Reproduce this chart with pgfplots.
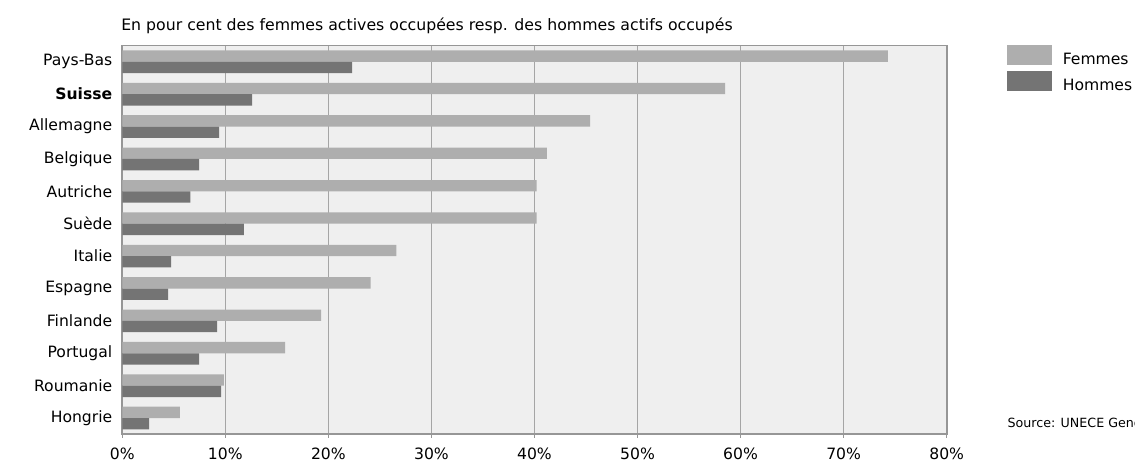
\documentclass[border=0pt]{standalone}
\usepackage{fontspec}
\setmainfont{DejaVu Sans}
\usepackage{pgfplots}
\pgfplotsset{compat=1.18}
\definecolor{fem}{RGB}{174,174,174}
\definecolor{hom}{RGB}{116,116,116}
\definecolor{bg}{RGB}{239,239,239}
\definecolor{grd}{RGB}{165,165,165}
\definecolor{brd}{RGB}{150,150,150}
\begin{document}
\begin{tikzpicture}
\begin{axis}[
  at={(91.7pt,22.3pt)}, anchor=south west,
  scale only axis, width=618.3pt, height=291.5pt,
  xbar, xmin=0, xmax=80, ymin=-0.5, ymax=11.5,
  axis background/.style={fill=bg},
  axis line style={brd, line width=1.3pt},
  xmajorgrids, grid style={grd, line width=1pt},
  xtick={0,10,...,80},
  xtick pos=lower,
  xticklabel={\pgfmathprintnumber{\tick}\%},
  /pgf/number format/assume math mode=true,
  ytick={0,...,11},
  yticklabels={Hongrie,Roumanie,Portugal,Finlande,Espagne,Italie,Suède,Autriche,Belgique,Allemagne,\textbf{Suisse},Pays-Bas},
  tick align=outside, major tick length=2.5pt,
  xtick style={brd, line width=1pt},
  ytick style={draw=none},
  tick label style={font=\fontsize{11.7}{13}\selectfont, text=black},
  xticklabel style={inner sep=0pt, anchor=north, yshift=-7.6pt},
  yticklabel style={xshift=-1.5pt},
  bar width=0.35,
  legend style={at={(1.073,1.002)}, anchor=north west, draw=none, fill=none,
     font=\fontsize{11.7}{13}\selectfont, row sep=1.5pt, inner sep=0pt,
     /tikz/every odd column/.append style={column sep=6pt}},
  legend cell align=left,
  legend image code/.code={\fill[#1] (0pt,-4pt) rectangle (33.75pt,11pt);},
  clip=false,
]
\addplot[fill=fem, draw=none, bar shift=0.175] coordinates {
(5.6,0) (9.87,1) (15.8,2) (19.3,3) (24.1,4) (26.6,5) (40.2,6) (40.2,7) (41.2,8) (45.4,9) (58.5,10) (74.3,11)};
\addplot[fill=hom, draw=none, bar shift=-0.175] coordinates {
(2.6,0) (9.6,1) (7.45,2) (9.2,3) (4.45,4) (4.75,5) (11.8,6) (6.6,7) (7.45,8) (9.4,9) (12.6,10) (22.3,11)};
\legend{Femmes,Hommes}
\node[anchor=base west, font=\fontsize{11.8}{13}\selectfont, inner sep=0pt] at (rel axis cs:-0.0015,1) [yshift=11.5pt] {En pour cent des femmes actives occupées resp. des hommes actifs occupés};
\node[anchor=base west, font=\fontsize{9.5}{11}\selectfont, inner sep=0pt] at (rel axis cs:1.0735,0) [yshift=5pt] {Source: UNECE Gender Statistics Database};
\end{axis}
\pgfresetboundingbox
\useasboundingbox (0,0) rectangle (851.25pt,348pt);
\end{tikzpicture}
\end{document}
